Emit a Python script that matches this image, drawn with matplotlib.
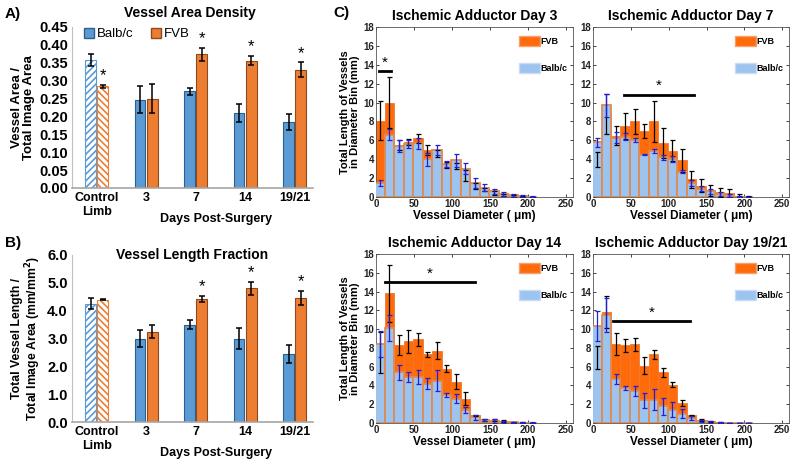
import matplotlib

matplotlib.use("Agg")
import matplotlib.pyplot as plt
from matplotlib.patches import Patch

W, H = 798, 467

# ---- panels A/B: group means ----
groups = ["Control\nLimb", "3", "7", "14", "19/21"]
area_balb = [0.358, 0.247, 0.270, 0.209, 0.184]
area_balb_err = [0.017, 0.037, 0.010, 0.025, 0.022]
area_fvb = [0.284, 0.250, 0.374, 0.356, 0.330]
area_fvb_err = [0.005, 0.040, 0.018, 0.013, 0.021]
area_star = [True, False, True, True, True]

len_balb = [4.25, 3.00, 3.50, 3.00, 2.45]
len_balb_err = [0.20, 0.32, 0.15, 0.38, 0.32]
len_fvb = [4.40, 3.25, 4.42, 4.80, 4.45]
len_fvb_err = [0.03, 0.22, 0.12, 0.22, 0.25]
len_star = [False, False, True, True, True]

# ---- panel C: diameter histograms ----
diam = [5, 17.5, 30, 42.5, 55, 67.5, 80, 92.5, 105, 117.5, 130, 142.5, 155, 167.5, 180, 192.5, 205]
days = ["3", "7", "14", "19/21"]

fvb3 = [8.1, 10.0, 5.5, 5.8, 6.2, 5.0, 4.6, 3.4, 3.3, 2.3, 1.2, 0.8, 0.4, 0.2, 0.1, 0.05, 0.0]
fvb3_err = [2.1, 2.7, 0.5, 0.3, 0.5, 0.5, 0.4, 0.3, 0.3, 0.6, 0.3, 0.2, 0.2, 0.1, 0.1, 0.05, 0.0]
balb3 = [1.5, 6.6, 5.4, 5.6, 5.7, 4.0, 5.0, 3.5, 3.9, 3.0, 1.5, 1.0, 0.6, 0.3, 0.2, 0.1, 0.05]
balb3_err = [0.3, 0.6, 0.6, 0.4, 0.6, 0.7, 0.5, 0.3, 0.7, 0.6, 0.5, 0.4, 0.3, 0.2, 0.15, 0.1, 0.05]

fvb7 = [4.0, 8.8, 6.5, 7.5, 8.0, 7.0, 8.0, 5.7, 4.9, 3.9, 1.9, 1.2, 0.7, 0.5, 0.4, 0.15, 0.05]
fvb7_err = [0.8, 2.1, 1.0, 1.4, 1.3, 0.7, 2.2, 1.6, 1.1, 1.2, 0.9, 0.7, 0.6, 0.5, 0.4, 0.15, 0.05]
balb7 = [5.8, 9.7, 6.3, 6.4, 6.0, 4.5, 4.9, 4.2, 4.0, 2.7, 1.5, 0.9, 0.6, 0.3, 0.2, 0.05, 0.0]
balb7_err = [0.5, 1.2, 0.6, 0.4, 0.2, 0.1, 0.2, 0.3, 0.3, 0.2, 0.3, 0.3, 0.3, 0.2, 0.15, 0.05, 0.0]

fvb14 = [7.5, 13.8, 8.3, 8.7, 8.9, 7.3, 7.7, 5.8, 4.4, 2.6, 0.8, 0.3, 0.3, 0.2, 0.1, 0.05, 0.0]
fvb14_err = [2.2, 3.0, 1.1, 1.2, 0.7, 0.3, 0.9, 0.4, 0.8, 0.7, 0.1, 0.1, 0.1, 0.1, 0.05, 0.05, 0.0]
balb14 = [8.4, 10.1, 5.4, 4.9, 4.9, 4.2, 4.5, 3.0, 2.6, 1.4, 0.6, 0.3, 0.2, 0.15, 0.1, 0.05, 0.03]
balb14_err = [1.4, 1.4, 0.8, 0.5, 0.7, 0.6, 1.1, 0.2, 0.5, 0.3, 0.3, 0.1, 0.2, 0.1, 0.05, 0.05, 0.03]

fvb19 = [7.0, 11.8, 8.4, 8.3, 8.4, 6.1, 7.3, 5.4, 4.1, 2.1, 0.8, 0.3, 0.2, 0.1, 0.0, 0.0, 0.0]
fvb19_err = [1.2, 1.7, 1.2, 0.7, 0.7, 0.9, 0.5, 0.5, 0.3, 0.3, 0.1, 0.1, 0.05, 0.05, 0.0, 0.0, 0.0]
balb19 = [10.3, 11.5, 4.7, 3.7, 3.4, 2.4, 2.5, 1.8, 1.4, 1.0, 0.5, 0.2, 0.15, 0.05, 0.0, 0.0, 0.0]
balb19_err = [1.6, 1.8, 0.5, 0.2, 0.5, 0.8, 1.1, 0.9, 0.8, 0.5, 0.2, 0.1, 0.1, 0.05, 0.0, 0.0, 0.0]

# significance bars: start / end diameter and height
sig_x0 = [4, 41, 12, 27]
sig_x1 = [20, 133, 130, 128]
sig_y = [13.3, 10.85, 15.0, 10.85]

C_BALB = "#5B9BD5"
C_FVB = "#ED7D31"
C_HORANGE = "#FF6A0A"
C_HBLUE = "#9CC4EE"

plt.rcParams.update({
    "font.family": ["Liberation Sans", "DejaVu Sans"],
    "font.weight": "bold",
    "axes.labelweight": "bold",
    "axes.titleweight": "bold",
    "hatch.linewidth": 1.2,
})

fig = plt.figure(figsize=(W / 100, H / 100), dpi=100)


def px_axes(l, t, r, b):
    return fig.add_axes([l / W, 1 - b / H, (r - l) / W, (b - t) / H])


def group_panel(ax, balb, balb_err, fvb, fvb_err, stars, ymax, step, fmt):
    xs = list(range(len(groups)))
    w, off = 0.22, 0.125
    for i in xs:
        if i == 0:  # control limb: hatched, unfilled
            ax.bar(i - off, balb[i], w, color="white", edgecolor=C_BALB, hatch="/////",
                   lw=0.8, zorder=2)
            ax.bar(i + off, fvb[i], w, color="white", edgecolor=C_FVB, hatch="\\\\\\\\\\",
                   lw=0.8, zorder=2)
        else:
            ax.bar(i - off, balb[i], w, color=C_BALB, edgecolor="#2E5F8C", lw=0.8, zorder=2)
            ax.bar(i + off, fvb[i], w, color=C_FVB, edgecolor="#8C4A1E", lw=0.8, zorder=2)
    ax.errorbar([i - off for i in xs], balb, yerr=balb_err, fmt="none", ecolor="black",
                elinewidth=1.1, capsize=2.5, capthick=1.1, zorder=3)
    ax.errorbar([i + off for i in xs], fvb, yerr=fvb_err, fmt="none", ecolor="black",
                elinewidth=1.1, capsize=2.5, capthick=1.1, zorder=3)
    for i in xs:
        if stars[i]:
            ax.text(i + off, fvb[i] + fvb_err[i] + ymax * 0.01, "*", ha="center", va="bottom",
                    fontsize=12, fontweight="normal")
    ax.set_xlim(-0.5, 4.37)
    ax.set_ylim(0, ymax)
    ticks = [k * step for k in range(int(round(ymax / step)) + 1)]
    ax.set_yticks(ticks)
    ax.set_yticklabels([fmt.format(t) for t in ticks], fontsize=10.5)
    ax.set_xticks(xs)
    ax.set_xticklabels(groups, fontsize=9, linespacing=1.15)
    ax.tick_params(length=0, pad=3)
    for s in ("top", "right"):
        ax.spines[s].set_visible(False)
    ax.spines["left"].set_color("#BFBFBF")
    ax.spines["bottom"].set_color("#A6A6A6")
    ax.spines["bottom"].set_linewidth(1.2)


# ---- A ----
axA = px_axes(72, 27, 313, 188)
group_panel(axA, area_balb, area_balb_err, area_fvb, area_fvb_err, area_star, 0.45, 0.05, "{:.2f}")
axA.set_ylabel("Vessel Area /\nTotal Image Area", fontsize=9.5, linespacing=1.0, labelpad=3)
axA.legend(handles=[Patch(facecolor=C_BALB, edgecolor="#2E5F8C", label="Balb/c"),
                    Patch(facecolor=C_FVB, edgecolor="#8C4A1E", label="FVB")],
           loc="upper left", bbox_to_anchor=(0.0, 1.07), ncol=2, frameon=False,
           prop={"size": 9.5, "weight": "normal"}, handlelength=0.8, handleheight=0.8,
           handletextpad=0.2, columnspacing=1.3)
fig.text(190 / W, 1 - 13 / H, "Vessel Area Density", ha="center", va="center", fontsize=10)
fig.text(216 / W, 1 - 219 / H, "Days Post-Surgery", ha="center", va="center", fontsize=9)
fig.text(5 / W, 1 - 14 / H, "A)", ha="left", va="center", fontsize=11)

# ---- B ----
axB = px_axes(72, 255, 313, 422)
group_panel(axB, len_balb, len_balb_err, len_fvb, len_fvb_err, len_star, 6.0, 1.0, "{:.1f}")
axB.set_ylabel("Total Vessel Length /\nTotal Image Area (mm/mm$^2$)", fontsize=8.8,
               linespacing=1.0, labelpad=3)
fig.text(192 / W, 1 - 255 / H, "Vessel Length Fraction", ha="center", va="center", fontsize=10)
fig.text(216 / W, 1 - 453 / H, "Days Post-Surgery", ha="center", va="center", fontsize=9)
fig.text(5 / W, 1 - 243 / H, "B)", ha="left", va="center", fontsize=11)

# ---- C ----
fig.text(333 / W, 1 - 13 / H, "C)", ha="left", va="center", fontsize=11)
hist_rects = [(376, 27, 573, 197), (593, 27, 789, 197), (376, 254, 573, 423), (593, 254, 789, 423)]
hist_data = [(fvb3, fvb3_err, balb3, balb3_err), (fvb7, fvb7_err, balb7, balb7_err),
             (fvb14, fvb14_err, balb14, balb14_err), (fvb19, fvb19_err, balb19, balb19_err)]

for k, (rect, (fv, fve, bb, bbe)) in enumerate(zip(hist_rects, hist_data)):
    ax = px_axes(*rect)
    ax.bar(diam, fv, 12.5, color=C_HORANGE, edgecolor="#F07A30", lw=0.6, zorder=2)
    ax.bar(diam, bb, 12.5, color=C_HBLUE, edgecolor="#E08A50", lw=1.3, zorder=3)
    ax.errorbar(diam, fv, yerr=fve, fmt="none", ecolor="black", elinewidth=0.9,
                capsize=1.8, capthick=0.9, zorder=4)
    ax.errorbar(diam, bb, yerr=bbe, fmt="none", ecolor="#2020D8", elinewidth=0.9,
                capsize=1.8, capthick=0.9, zorder=5)
    ax.plot([sig_x0[k], sig_x1[k]], [sig_y[k], sig_y[k]], color="black", lw=2, zorder=6)
    ax.text((sig_x0[k] + sig_x1[k]) / 2, sig_y[k] + 0.15, "*", ha="center", va="bottom",
            fontsize=11, fontweight="normal")
    ax.set_xlim(0, 259)
    ax.set_ylim(0, 18)
    ax.set_xticks([0, 50, 100, 150, 200, 250])
    ax.set_yticks(list(range(0, 19, 2)))
    ax.tick_params(direction="in", top=True, right=True, length=2.5, width=0.6,
                   labelsize=7, pad=1.5, colors="#222222")
    for s in ax.spines.values():
        s.set_linewidth(0.6)
        s.set_color("#555555")
    ax.set_xlabel("Vessel Diameter ( \u03bcm)", fontsize=8.5, labelpad=1)
    if k % 2 == 0:
        ax.set_ylabel("Total Length of Vessels\nin Diameter Bin (mm)", fontsize=8,
                      linespacing=1.0, labelpad=2)
    ax.set_title(f"Ischemic Adductor Day {days[k]}", fontsize=10, pad=5)
    ax.legend(handles=[Patch(facecolor=C_HORANGE, edgecolor="#F5A070", label="FVB"),
                       Patch(facecolor=C_HBLUE, edgecolor="#C8DDF5", label="Balb/c")],
              loc="upper right", bbox_to_anchor=(1.0, 0.98), frameon=False,
              prop={"size": 6.5, "weight": "bold"}, handlelength=2.3, handleheight=1.3,
              handletextpad=0.1, labelspacing=1.9, borderaxespad=0.2)

fig.savefig("out.png", dpi=100)
